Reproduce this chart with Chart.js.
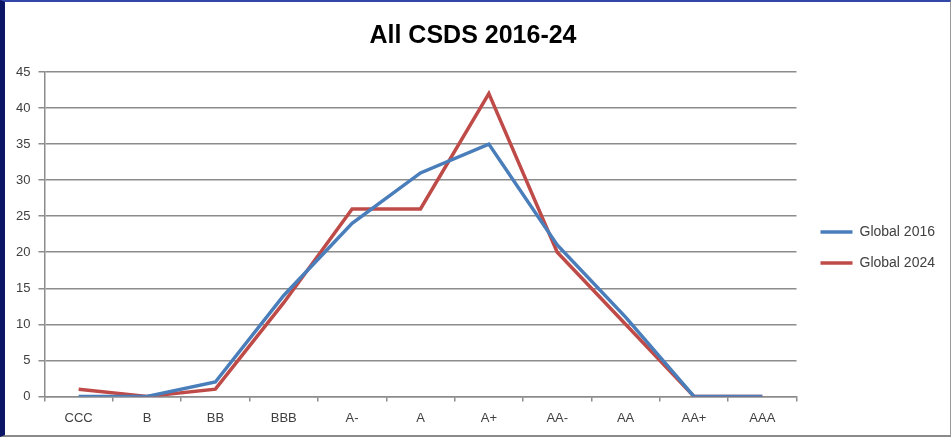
<!DOCTYPE html>
<html lang="en">
<head>
    <meta charset="UTF-8">
    <title>All CSDS 2016-24</title>
    <script src="https://cdn.jsdelivr.net/npm/chart.js"></script>
    <style>
        html, body { margin: 0; padding: 0; background: #fff; }
        #frame {
            position: absolute; left: 0; top: 0;
            width: 945px; height: 433px;
            border-left: 5px solid #0b1667;
            border-top: 2px solid #3347a8;
            border-right: 1px solid #9a9a9a;
            border-bottom: 2px solid #8a8a8a;
        }
    </style>
</head>
<body>
    <div id="frame"><canvas id="myChart" width="945" height="433"></canvas></div>
    <script>
        const ratings = ['CCC', 'B', 'BB', 'BBB', 'A-', 'A', 'A+', 'AA-', 'AA', 'AA+', 'AAA'];
        const global2016 = [0, 0, 2, 14, 24, 31, 35, 21, 11, 0, 0];
        const global2024 = [1, 0, 1, 13, 26, 26, 42, 20, 10, 0, 0];

        const gridGray = '#8c8c8c';
        const labelColor = '#404040';

        // nudge the legend a bit right / down, like the Excel original
        const legendNudge = {
            id: 'legendNudge',
            afterLayout(chart) {
                const lg = chart.legend;
                lg.left += 7; lg.right += 7;
                lg.top += 29; lg.bottom += 29;
            }
        };

        const ctx = document.getElementById('myChart').getContext('2d');
        const myChart = new Chart(ctx, {
            type: 'line',
            data: {
                labels: ratings,
                datasets: [
                    {
                        label: 'Global 2016',
                        data: global2016,
                        borderColor: '#4a7ebb',
                        backgroundColor: '#4a7ebb',
                        borderWidth: 3.5,
                        pointRadius: 0,
                        tension: 0,
                        fill: false
                    },
                    {
                        label: 'Global 2024',
                        data: global2024,
                        borderColor: '#be4b48',
                        backgroundColor: '#be4b48',
                        borderWidth: 3.5,
                        pointRadius: 0,
                        tension: 0,
                        fill: false
                    }
                ]
            },
            plugins: [legendNudge],
            options: {
                responsive: false,
                animation: false,
                layout: { padding: { left: 3, right: 12, top: 0, bottom: 0 } },
                plugins: {
                    title: {
                        display: true,
                        text: 'All CSDS 2016-24',
                        color: '#000',
                        font: { family: 'Liberation Sans', size: 25, weight: 'bold' },
                        padding: { top: 19, bottom: 21 }
                    },
                    legend: {
                        position: 'right',
                        labels: {
                            usePointStyle: true,
                            pointStyle: 'line',
                            pointStyleWidth: 32,
                            color: labelColor,
                            padding: 17,
                            font: { family: 'Liberation Sans', size: 14 }
                        }
                    },
                    tooltip: { enabled: false }
                },
                scales: {
                    x: {
                        offset: true,
                        grid: {
                            offset: true,
                            drawOnChartArea: false,
                            color: gridGray,
                            tickLength: 5,
                            lineWidth: 1.5
                        },
                        border: { color: gridGray, width: 1.5 },
                        ticks: {
                            color: labelColor,
                            padding: 9,
                            maxRotation: 0,
                            font: { family: 'Liberation Sans', size: 13 }
                        }
                    },
                    y: {
                        min: 0,
                        max: 45,
                        grid: {
                            color: gridGray,
                            lineWidth: 1.5,
                            tickLength: 6
                        },
                        border: { color: gridGray, width: 1.5 },
                        ticks: {
                            stepSize: 5,
                            color: labelColor,
                            padding: 8,
                            font: { family: 'Liberation Sans', size: 13 }
                        }
                    }
                }
            }
        });
    </script>
</body>
</html>
